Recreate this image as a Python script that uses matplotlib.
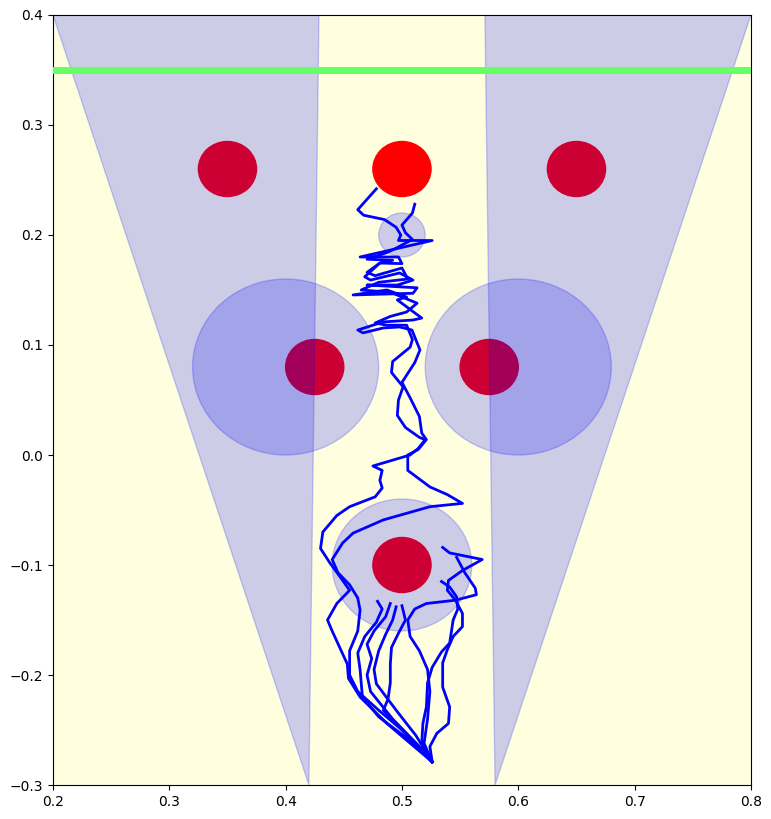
import matplotlib
matplotlib.use('Agg')
import matplotlib.pyplot as plt
from matplotlib.patches import Circle, Polygon

# obstacles (red) and sensing zones (blue)
red_x = [0.35, 0.5, 0.65, 0.425, 0.575, 0.5]
red_y = [0.26, 0.26, 0.26, 0.08, 0.08, -0.1]
red_r = 0.025

zone_x = [0.5, 0.4, 0.6, 0.5]
zone_y = [0.2, 0.08, 0.08, -0.1]
zone_r = [0.02, 0.08, 0.08, 0.06]

cone_left = [(0.42, -0.3), (0.2, 0.4), (0.4287, 0.4)]
cone_right = [(0.58, -0.3), (0.8, 0.4), (0.5713, 0.4)]
goal_y = 0.35

# trajectories
t1_x = [0.478, 0.462, 0.467, 0.485, 0.495, 0.499, 0.497, 0.526, 0.464, 0.497, 0.500, 0.481,
        0.468, 0.473, 0.498, 0.5095, 0.496, 0.470, 0.513, 0.5095, 0.458, 0.487, 0.504, 0.496,
        0.517, 0.5095, 0.484, 0.462, 0.4665, 0.484, 0.498, 0.5086, 0.513, 0.5155,
        0.511, 0.500, 0.507, 0.515, 0.517, 0.521, 0.514, 0.505,
        0.505, 0.524, 0.539, 0.552, 0.524, 0.484, 0.458, 0.449, 0.440, 0.445, 0.455, 0.462,
        0.464, 0.462, 0.455, 0.455, 0.462, 0.480, 0.500, 0.526]
t1_y = [0.242, 0.223, 0.218, 0.214, 0.207, 0.200, 0.195, 0.195, 0.180, 0.180, 0.174, 0.1745,
        0.162, 0.159, 0.1655, 0.159, 0.1545, 0.1545, 0.152, 0.147, 0.1455, 0.150, 0.1436, 0.141,
        0.1245, 0.1227, 0.121, 0.1136, 0.111, 0.1155, 0.1164, 0.1136, 0.102, 0.0955,
        0.084, 0.066, 0.052, 0.035, 0.020, 0.014, 0.005, 0.000,
        -0.014, -0.029, -0.036, -0.044, -0.047, -0.059, -0.071, -0.080, -0.095, -0.107, -0.118, -0.130,
        -0.141, -0.160, -0.178, -0.200, -0.215, -0.232, -0.250, -0.279]

t2_x = [0.511, 0.509, 0.500, 0.503, 0.509, 0.495, 0.487, 0.470, 0.492, 0.481, 0.470, 0.477,
        0.500, 0.505, 0.480, 0.465, 0.490, 0.513, 0.504, 0.490, 0.477, 0.487, 0.504, 0.509, 0.507,
        0.492, 0.491, 0.501, 0.497, 0.496, 0.503, 0.515, 0.520, 0.514, 0.507, 0.475, 0.483,
        0.481, 0.483, 0.477, 0.455, 0.444, 0.432, 0.430, 0.438, 0.449, 0.455, 0.444, 0.436,
        0.440, 0.453, 0.454, 0.464, 0.487, 0.526]
t2_y = [0.228, 0.220, 0.209, 0.202, 0.196, 0.188, 0.184, 0.178, 0.177, 0.1745, 0.166, 0.163,
        0.170, 0.160, 0.157, 0.150, 0.148, 0.138, 0.130, 0.126, 0.120, 0.118, 0.118, 0.105, 0.098,
        0.085, 0.075, 0.062, 0.050, 0.036, 0.025, 0.016, 0.014, 0.006, 0.000, -0.010, -0.014,
        -0.023, -0.030, -0.038, -0.047, -0.055, -0.070, -0.085, -0.098, -0.114, -0.123, -0.135, -0.150,
        -0.160, -0.190, -0.203, -0.220, -0.244, -0.279]

s1_x = [0.479, 0.483, 0.478, 0.468, 0.462, 0.464, 0.466, 0.480, 0.505, 0.526]
s1_y = [-0.133, -0.140, -0.152, -0.165, -0.180, -0.195, -0.220, -0.238, -0.258, -0.279]
s2_x = [0.490, 0.486, 0.476, 0.470, 0.474, 0.470, 0.473, 0.492, 0.515, 0.526]
s2_y = [-0.135, -0.147, -0.160, -0.172, -0.185, -0.200, -0.215, -0.240, -0.265, -0.279]
s3_x = [0.495, 0.492, 0.486, 0.480, 0.476, 0.478, 0.495, 0.512, 0.526]
s3_y = [-0.138, -0.150, -0.163, -0.178, -0.195, -0.208, -0.232, -0.255, -0.279]
s4_x = [0.500, 0.503, 0.497, 0.491, 0.490, 0.490, 0.488, 0.484, 0.505, 0.526]
s4_y = [-0.137, -0.150, -0.162, -0.175, -0.190, -0.207, -0.222, -0.232, -0.255, -0.279]

r1_x = [0.535, 0.541, 0.569, 0.552, 0.540, 0.539, 0.546, 0.552, 0.552, 0.544, 0.539, 0.535,
        0.535, 0.541, 0.540, 0.530, 0.524, 0.526]
r1_y = [-0.084, -0.089, -0.095, -0.105, -0.114, -0.123, -0.132, -0.144, -0.156, -0.165, -0.177, -0.189,
        -0.211, -0.229, -0.244, -0.253, -0.265, -0.279]
r2_x = [0.534, 0.541, 0.547, 0.548, 0.544, 0.541, 0.534, 0.526, 0.522, 0.521, 0.518, 0.517, 0.526]
r2_y = [-0.115, -0.120, -0.129, -0.140, -0.150, -0.171, -0.179, -0.193, -0.207, -0.229, -0.244, -0.262, -0.279]
r3_x = [0.547, 0.554, 0.563, 0.564, 0.546, 0.521, 0.511, 0.505, 0.507, 0.515, 0.522, 0.524, 0.522, 0.519, 0.526]
r3_y = [-0.093, -0.107, -0.121, -0.127, -0.132, -0.135, -0.140, -0.150, -0.165, -0.178, -0.195, -0.215, -0.240, -0.262, -0.279]

paths = [(t1_x, t1_y), (t2_x, t2_y), (s1_x, s1_y), (s2_x, s2_y), (s3_x, s3_y),
         (s4_x, s4_y), (r1_x, r1_y), (r2_x, r2_y), (r3_x, r3_y)]

fig = plt.figure(figsize=(7.71, 8.19), dpi=100)
ax = fig.add_axes([0.0687, 0.0415, 0.9053, 0.9402])
ax.set_facecolor('lightyellow')

for x, y in zip(red_x, red_y):
    ax.add_patch(Circle((x, y), red_r, color='red', zorder=1))

ax.add_patch(Polygon(cone_left, closed=True, color='blue', alpha=0.2, zorder=2))
ax.add_patch(Polygon(cone_right, closed=True, color='blue', alpha=0.2, zorder=2))

for x, y, r in zip(zone_x, zone_y, zone_r):
    ax.add_patch(Circle((x, y), r, color='blue', alpha=0.2, zorder=2))

ax.axhline(goal_y, color='#66ff66', linewidth=5, zorder=3)

for x, y in paths:
    ax.plot(x, y, color='blue', linewidth=2, zorder=4)

ax.set_xlim(0.2, 0.8)
ax.set_ylim(-0.3, 0.4)

fig.savefig('out.png', dpi=100)
